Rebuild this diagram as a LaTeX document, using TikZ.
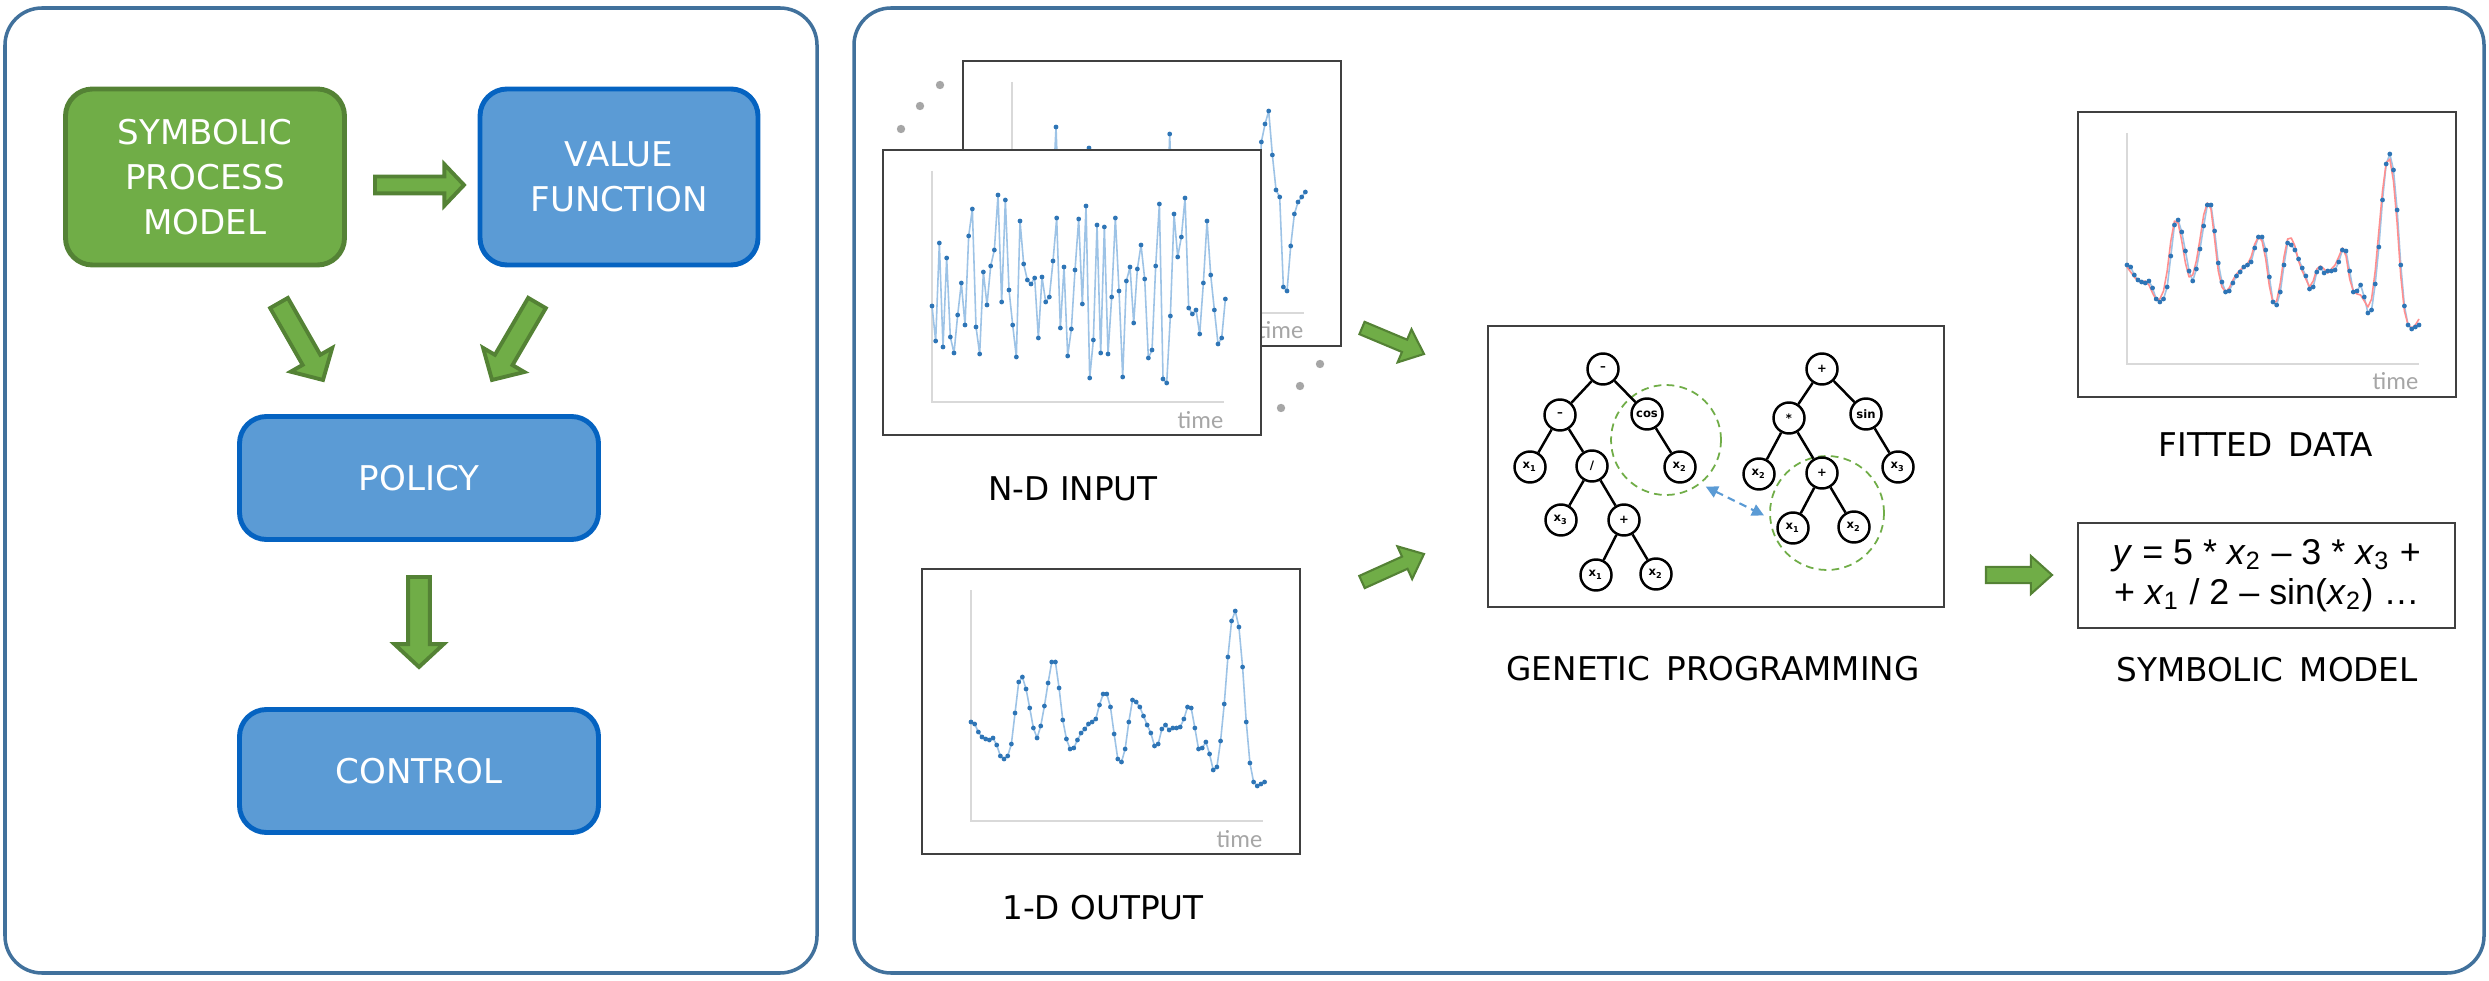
\documentclass[tikz,border=0pt]{standalone}
\usepackage{fontspec}
\setmainfont{DejaVu Sans}
\newfontfamily\formulafont{Liberation Sans}
\newfontfamily\axisfont{Carlito}
\usetikzlibrary{positioning, arrows.meta, calc}

\definecolor{panelblue}{HTML}{41719C}
\definecolor{boxgreen}{HTML}{70AD47}
\definecolor{boxgreenline}{HTML}{548235}
\definecolor{boxblue}{HTML}{5B9BD5}
\definecolor{boxblueline}{HTML}{0563C1}
\definecolor{framegray}{HTML}{404040}
\definecolor{axisgray}{HTML}{D9D9D9}
\definecolor{tsblue}{HTML}{9DC3E6}
\definecolor{dotblue}{HTML}{2E75B6}
\definecolor{fitred}{HTML}{FF8F8F}
\definecolor{dotgray}{HTML}{A6A6A6}

\tikzset{
  panel/.style={draw=panelblue, line width=1pt, rounded corners=3.7mm},
  procbox/.style={rounded corners=2.7mm, line width=1.4pt, text=white, align=center,
    inner sep=0pt, font=\fontsize{9.7}{12.7}\selectfont},
  greenbox/.style={procbox, draw=boxgreenline, fill=boxgreen},
  bluebox/.style={procbox, draw=boxblueline, fill=boxblue},
  fatarrow/.style={draw=boxgreenline, fill=boxgreen, line width=1.1pt, line join=miter},
  thinarrow/.style={fatarrow, line width=0.6pt},
  sheet/.style={draw=framegray, fill=white, line width=0.7pt, minimum width=37.8mm,
    minimum height=28.5mm, inner sep=0pt},
  axisline/.style={draw=axisgray, line width=0.55pt},
  tsline/.style={draw=tsblue, line width=0.45pt, line join=round},
  fitline/.style={draw=fitred, line width=0.45pt, line join=round},
  tsdot/.style={fill=dotblue},
  timelabel/.style={text=dotgray, font=\axisfont\fontsize{7}{8}\selectfont, inner sep=0pt},
  caption/.style={font=\fontsize{9.3}{11}\selectfont, inner sep=0pt, anchor=base},
  moredots/.style={fill=dotgray},
  gpnode/.style={circle, draw, line width=0.7pt, fill=white, minimum size=3.1mm,
    inner sep=0pt, font=\fontsize{3.3}{4}\selectfont\bfseries},
  gpedge/.style={line width=0.7pt},
  swapring/.style={circle, draw=boxgreen, line width=0.5pt, inner sep=0pt,
    dash pattern=on 2.2pt off 1.5pt},
  swaparrow/.style={draw=boxblue, line width=0.6pt, dash pattern=on 2.2pt off 1.5pt,
    arrows={Triangle[length=1.2mm,width=1.2mm]-Triangle[length=1.2mm,width=1.2mm]},
    shorten <=0.6mm, shorten >=0.6mm},
}

% block arrow: [style]{from}{to}{shaft half width}{head half width}{head length}
\newcommand\blockarrow[6][fatarrow]{%
  \draw[#1] let \p1=(#2), \p2=(#3), \n1={atan2(\y2-\y1,\x2-\x1)},
      \n2={veclen(\x2-\x1,\y2-\y1)} in
    [shift={(\p1)}, rotate=\n1]
    (0pt,-#4) -- ({\n2*1pt-#6},-#4) -- ({\n2*1pt-#6},-#5) -- ({\n2*1pt},0pt)
    -- ({\n2*1pt-#6},#5) -- ({\n2*1pt-#6},#4) -- (0pt,#4) -- cycle;}

% time series inside a sheet (local units, y down)
\def\tsfirstof#1,#2\relax{#1}
\newcommand\tsplot[3][tsline]{%
  \edef\tsfirst{\expandafter\tsfirstof#3\relax}%
  \draw[#1] (50,\tsfirst) \foreach \yv [count=\k from 0] in #3 { -- ({50+\k*#2},\yv) };}
\newcommand\tsdots[2]{%
  \foreach \yv [count=\k from 0] in #2 \fill[tsdot] ({50+\k*#1},\yv) circle (0.24mm);}
\newcommand\chartaxes[1]{%
  \draw[axisline] (50,22) -- (50,253) -- (342,253);
  \node[timelabel, anchor=base east] (#1) at (342,279) {time};}

\def\ndbackdata{150,190,120,205,140,175,110,200,160,130,185,145,67,170,120,200,150,180,110,195,140,88,180,130,210,160,115,190,145,205,125,170,100,185,150,220,135,175,115,200,160,130,190,74,175,140,210,120,185,155,105,195,165,225,130,180,150,115,200,140,175,120,210,160,135,190,150,170,82,64,51,95,130,137,227,231,186,154,142,137,132}
\def\ndfrontdata{157,192,94,198,109,188,204,166,134,176,87,60,178,205,123,156,117,101,46,153,51,141,176,208,72,115,131,135,129,189,128,153,148,112,69,179,118,207,180,121,70,155,57,229,191,76,204,78,205,148,69,142,228,132,118,174,120,96,130,209,201,117,55,230,234,167,65,108,88,49,159,165,161,185,134,72,126,161,195,189,150}
\def\outdata{154,156,164,169,171,172,170,177,188,191,188,176,145,114,109,121,140,160,170,158,138,115,94,94,120,152,171,181,180,172,165,161,156,154,151,137,126,126,139,166,191,194,181,154,132,134,139,148,157,165,178,176,161,157,162,160,160,159,151,139,140,160,181,180,174,186,202,199,173,136,89,53,43,59,99,154,195,214,218,216,214}
\def\fitdata{156,161,166,170,171,170,174,182,189,188,180,160,130,110,112,130,152,166,164,150,128,104,92,98,128,160,176,181,177,169,163,159,156,153,146,133,126,130,148,175,192,190,172,146,128,127,135,150,160,168,176,170,158,155,158,162,158,154,146,137,145,168,180,183,184,190,196,188,160,120,80,52,48,70,112,165,200,214,217,214,208}

\begin{document}
\begin{tikzpicture}[x=0.1mm, y=-0.1mm]
\useasboundingbox (0,0) rectangle (2489,981);

% Left panel: model, value function, policy, control
\draw[panel] (5,8) rectangle (817,973);
\node[greenbox, minimum width=27.9mm, minimum height=17.6mm] (sym) at (205,177) {SYMBOLIC\\PROCESS\\MODEL};
\node[bluebox, minimum width=27.8mm, minimum height=17.6mm] (val) at (619,177) {VALUE\\FUNCTION};
\node[bluebox, minimum width=35.9mm, minimum height=12.3mm] (pol) at (419,478) {POLICY};
\node[bluebox, minimum width=35.9mm, minimum height=12.3mm] (ctl) at (419,771) {CONTROL};

\coordinate (symval-a) at (375,185);  \coordinate (symval-b) at (464,185);
\coordinate (sympol-a) at (279,303);  \coordinate (sympol-b) at (323,380);
\coordinate (valpol-a) at (537,303);  \coordinate (valpol-b) at (492,380);
\coordinate (polctl-a) at (419,577);  \coordinate (polctl-b) at (419,667);
\blockarrow{symval-a}{symval-b}{2.4pt}{5.9pt}{5.6pt}
\blockarrow{sympol-a}{sympol-b}{2.9pt}{6.8pt}{6.6pt}
\blockarrow{valpol-a}{valpol-b}{2.9pt}{6.8pt}{6.6pt}
\blockarrow{polctl-a}{polctl-b}{3.1pt}{7pt}{6.5pt}

% Right panel: data -> genetic programming -> model
\draw[panel] (854,8) rectangle (2484,973);

% N-D input, stack of sheets
\fill[moredots] (940,85) circle (0.42mm) (920,106) circle (0.42mm) (901,129) circle (0.42mm);
\node[sheet, anchor=north west] (ndback) at (962,60) {};
\begin{scope}[shift={(ndback.north west)}]
  \chartaxes{ndback-t}
  \tsplot{3.667}{\ndbackdata}
  \tsdots{3.667}{\ndbackdata}
\end{scope}
\node[sheet, anchor=north west] (ndfront) at (882,149) {};
\begin{scope}[shift={(ndfront.north west)}]
  \chartaxes{ndfront-t}
  \tsplot{3.667}{\ndfrontdata}
  \tsdots{3.667}{\ndfrontdata}
\end{scope}
\fill[moredots] (1320,364) circle (0.42mm) (1300,386) circle (0.42mm) (1281,408) circle (0.42mm);
\node[caption] (ndcap) at (1073,500) {N-D INPUT};

% 1-D output
\node[sheet, anchor=north west] (out) at (921,568) {};
\begin{scope}[shift={(out.north west)}]
  \chartaxes{out-t}
  \tsplot{3.67}{\outdata}
  \tsdots{3.67}{\outdata}
\end{scope}
\node[caption] (outcap) at (1103,919) {1-D OUTPUT};

% genetic programming
\node[sheet, minimum width=45.6mm, minimum height=28.1mm, anchor=north west] (gp) at (1487,325) {};
\node[swapring, minimum size=11mm] (ringL) at (1666,440) {};
\node[swapring, minimum size=11.4mm] (ringR) at (1827,513) {};
\node[gpnode] (lroot) at (1603,369) {--};
\node[gpnode] (lminus) at (1560,415) {--};
\node[gpnode] (lcos) at (1647,414) {cos};
\node[gpnode] (lx1) at (1530,467) {x\textsubscript{1}};
\node[gpnode] (ldiv) at (1592,466) {/};
\node[gpnode] (lcx2) at (1680,467) {x\textsubscript{2}};
\node[gpnode] (lx3) at (1561,520) {x\textsubscript{3}};
\node[gpnode] (lplus) at (1624,520) {+};
\node[gpnode] (lpx1) at (1596,575) {x\textsubscript{1}};
\node[gpnode] (lpx2) at (1656,574) {x\textsubscript{2}};
\draw[gpedge] (lroot) -- (lminus) (lroot) -- (lcos) (lminus) -- (lx1) (lminus) -- (ldiv)
  (lcos) -- (lcx2) (ldiv) -- (lx3) (ldiv) -- (lplus) (lplus) -- (lpx1) (lplus) -- (lpx2);
\node[gpnode] (rroot) at (1822,369) {+};
\node[gpnode] (rmul) at (1789,418) {*};
\node[gpnode] (rsin) at (1866,414) {sin};
\node[gpnode] (rx2) at (1759,474) {x\textsubscript{2}};
\node[gpnode] (rplus) at (1822,473) {+};
\node[gpnode] (rx3) at (1898,467) {x\textsubscript{3}};
\node[gpnode] (rpx1) at (1793,528) {x\textsubscript{1}};
\node[gpnode] (rpx2) at (1854,527) {x\textsubscript{2}};
\draw[gpedge] (rroot) -- (rmul) (rroot) -- (rsin) (rmul) -- (rx2) (rmul) -- (rplus)
  (rsin) -- (rx3) (rplus) -- (rpx1) (rplus) -- (rpx2);
\draw[swaparrow] (ringL.-52) -- (ringR.185);
\node[caption] (gpcap) at (1713,680) {GENETIC\hspace{0.5em}PROGRAMMING};

% fitted data
\node[sheet, anchor=north west] (fit) at (2077,111) {};
\begin{scope}[shift={(fit.north west)}]
  \chartaxes{fit-t}
  \tsplot{3.65}{\outdata}
  \tsplot[fitline]{3.65}{\fitdata}
  \tsdots{3.65}{\outdata}
\end{scope}
\node[caption] (fitcap) at (2266,457) {FITTED\hspace{0.5em}DATA};

% symbolic model
\node[sheet, minimum width=37.7mm, minimum height=10.5mm, anchor=north west, align=center,
  font=\formulafont\fontsize{10.2}{11.4}\selectfont] (model) at (2077,522)
  {\textit{y} = 5 * \textit{x}\textsubscript{2} – 3 * \textit{x}\textsubscript{3} +\\
   + \textit{x}\textsubscript{1} / 2 – sin(\textit{x}\textsubscript{2}) …};
\node[caption] (modcap) at (2267,681) {SYMBOLIC\hspace{0.5em}MODEL};

\coordinate (ndgp-a) at (1362,328);   \coordinate (ndgp-b) at (1424,354);
\coordinate (outgp-a) at (1362,582);  \coordinate (outgp-b) at (1424,554);
\coordinate (gpmod-a) at (1986,575);  \coordinate (gpmod-b) at (2052,575);
\blockarrow[thinarrow]{ndgp-a}{ndgp-b}{1.9pt}{5.1pt}{6pt}
\blockarrow[thinarrow]{outgp-a}{outgp-b}{1.9pt}{5.1pt}{6pt}
\blockarrow[thinarrow]{gpmod-a}{gpmod-b}{2.3pt}{5.4pt}{6pt}
\end{tikzpicture}
\end{document}
